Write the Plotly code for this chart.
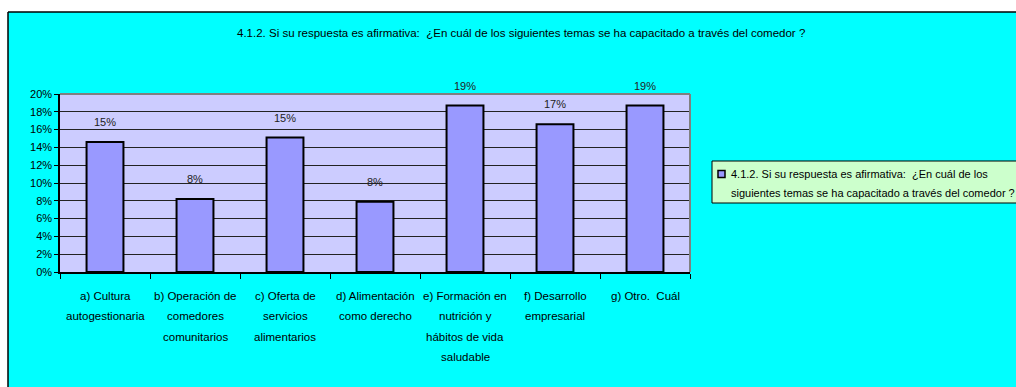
import plotly.graph_objects as go

# Survey question and answer options
title_text = ("4.1.2. Si su respuesta es afirmativa:  ¿En cuál de los siguientes "
              "temas se ha capacitado a través del comedor ?")
legend_lines = ["4.1.2. Si su respuesta es afirmativa:  ¿En cuál de los",
                "siguientes temas se ha capacitado a través del comedor ?"]
categories = [
    "a) Cultura<br>autogestionaria",
    "b) Operación de<br>comedores<br>comunitarios",
    "c) Oferta de<br>servicios<br>alimentarios",
    "d) Alimentación<br>como derecho",
    "e) Formación en<br>nutrición y<br>hábitos de vida<br>saludable",
    "f) Desarrollo<br>empresarial",
    "g) Otro.  Cuál",
]
shares = [0.146, 0.082, 0.151, 0.079, 0.187, 0.166, 0.187]
y_ticks = [0.0, 0.02, 0.04, 0.06, 0.08, 0.10, 0.12, 0.14, 0.16, 0.18, 0.20]

W, H = 1016, 387
ML, MR, MT, MB = 60, 326, 94, 115
PW, PH = W - ML - MR, H - MT - MB
FONT = "Liberation Sans, Arial, sans-serif"


def px_x(px):
    return (px - ML) / PW


def px_y(py):
    return (H - MB - py) / PH


fig = go.Figure()
fig.add_trace(go.Bar(
    x=list(range(len(categories))),
    y=shares,
    marker=dict(color="#9999FF", line=dict(color="black", width=2)),
    showlegend=False,
    hoverinfo="skip",
))

annotations = []
# value labels above each bar
for i, v in enumerate(shares):
    annotations.append(dict(
        x=i, y=v, xref="x", yref="y", text=f"{v:.0%}", showarrow=False,
        yanchor="middle", yshift=20, font=dict(family=FONT, size=11, color="#222"),
    ))
# category labels under the axis
for i, label in enumerate(categories):
    for j, line in enumerate(label.split("<br>")):
        annotations.append(dict(
            x=i, y=0, xref="x", yref="paper", text=line, showarrow=False,
            yanchor="middle", yshift=-24 - j * 20.4,
            font=dict(family=FONT, size=11.5, color="black"),
        ))
# chart title
annotations.append(dict(
    x=px_x(521), y=px_y(33), xref="paper", yref="paper", text=title_text,
    showarrow=False, xanchor="center", yanchor="middle",
    font=dict(family=FONT, size=11.5, color="black"),
))
# legend text
for j, line in enumerate(legend_lines):
    annotations.append(dict(
        x=px_x(729), y=px_y(174 + j * 18.5), xref="paper", yref="paper", text=line,
        showarrow=False, xanchor="left", yanchor="middle",
        font=dict(family=FONT, size=11, color="black"),
    ))

shapes = [
    # white margin outside the chart frame
    dict(type="rect", xref="paper", yref="paper", x0=px_x(0), x1=px_x(W),
         y0=px_y(0), y1=px_y(12), fillcolor="white", line=dict(width=0), layer="below"),
    dict(type="rect", xref="paper", yref="paper", x0=px_x(0), x1=px_x(8),
         y0=px_y(0), y1=px_y(H), fillcolor="white", line=dict(width=0), layer="below"),
    # frame edges
    dict(type="line", xref="paper", yref="paper", x0=px_x(8), x1=px_x(W),
         y0=px_y(12), y1=px_y(12), line=dict(color="black", width=1.5)),
    dict(type="line", xref="paper", yref="paper", x0=px_x(8), x1=px_x(8),
         y0=px_y(12), y1=px_y(H), line=dict(color="black", width=1.5)),
    # grey plot-area border on top and right
    dict(type="line", xref="paper", yref="paper", x0=0, x1=1, y0=1, y1=1,
         line=dict(color="#808080", width=2), layer="above"),
    dict(type="line", xref="paper", yref="paper", x0=1, x1=1, y0=0, y1=1,
         line=dict(color="#808080", width=2), layer="above"),
    # legend box and key
    dict(type="rect", xref="paper", yref="paper", x0=px_x(712), x1=px_x(W + 20),
         y0=px_y(203), y1=px_y(161), fillcolor="#CCFFCC",
         line=dict(color="black", width=1)),
    dict(type="rect", xref="paper", yref="paper", x0=px_x(718), x1=px_x(725),
         y0=px_y(177.5), y1=px_y(170.5), fillcolor="#9999FF",
         line=dict(color="black", width=1.5)),
]

fig.update_layout(
    width=W, height=H,
    margin=dict(l=ML, r=MR, t=MT, b=MB, pad=0),
    paper_bgcolor="#00FFFF",
    plot_bgcolor="#CCCCFF",
    bargap=0.59,
    showlegend=False,
    annotations=annotations,
    shapes=shapes,
    xaxis=dict(
        type="linear", range=[-0.5, len(categories) - 0.5],
        tickvals=[i - 0.5 for i in range(len(categories) + 1)],
        showticklabels=False, ticks="outside", ticklen=5, tickcolor="black",
        showgrid=False, zeroline=False, showline=True, linecolor="black", linewidth=1.5,
    ),
    yaxis=dict(
        range=[0, 0.2], tickvals=y_ticks, tickformat=".0%",
        ticks="outside", ticklen=4, tickcolor="black",
        showgrid=True, gridcolor="#222", gridwidth=1,
        zeroline=False, showline=True, linecolor="black", linewidth=1.5,
        tickfont=dict(family=FONT, size=11, color="black"),
    ),
)

fig.write_html("out.html")
